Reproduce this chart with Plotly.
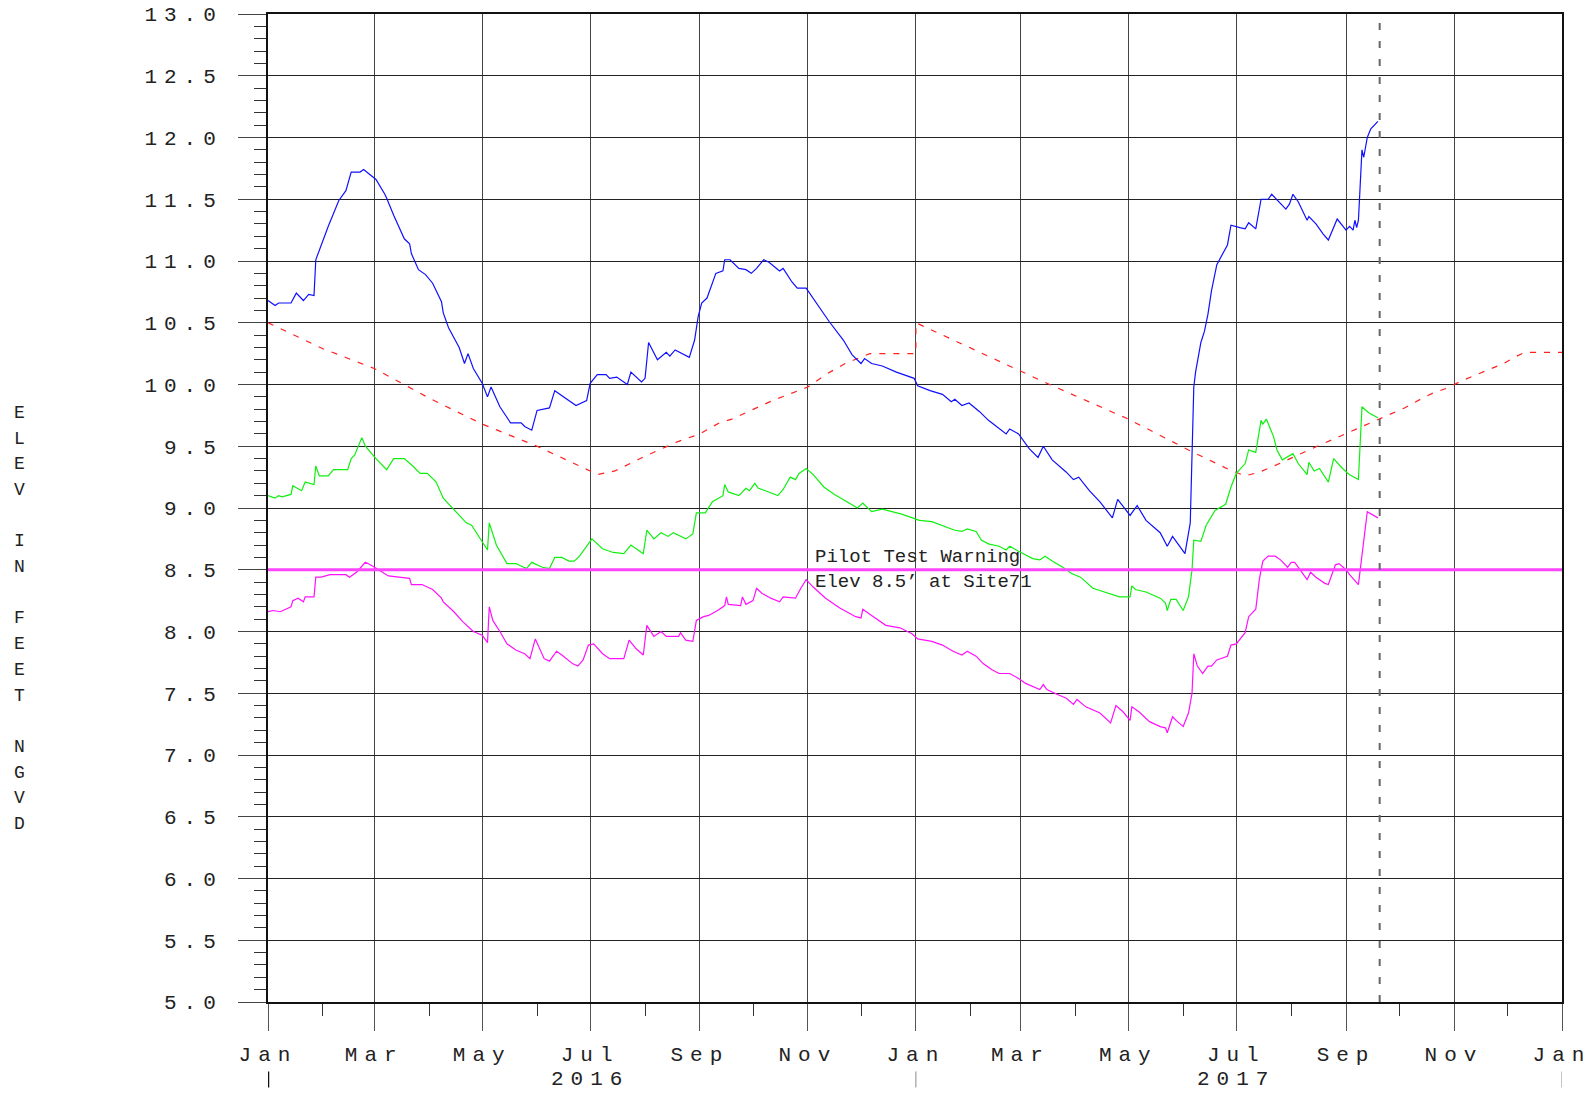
import plotly.graph_objects as go

# ---------------- data ----------------
BLUE_DATES = ["2016-01-01","2016-01-05","2016-01-07","2016-01-14","2016-01-17","2016-01-21","2016-01-24","2016-01-27","2016-01-28","2016-02-04",
"2016-02-10","2016-02-14","2016-02-17","2016-02-22","2016-02-24","2016-02-28","2016-03-02","2016-03-07","2016-03-08","2016-03-12",
"2016-03-18","2016-03-21","2016-03-22","2016-03-26","2016-03-30","2016-04-03","2016-04-08","2016-04-09","2016-04-12","2016-04-18",
"2016-04-21","2016-04-23","2016-04-26","2016-05-01","2016-05-04","2016-05-06","2016-05-11","2016-05-17","2016-05-23","2016-05-25",
"2016-05-29","2016-06-01","2016-06-06","2016-06-08","2016-06-11","2016-06-15","2016-06-23","2016-06-29","2016-07-01","2016-07-05",
"2016-07-10","2016-07-12","2016-07-16","2016-07-22","2016-07-24","2016-07-30","2016-08-01","2016-08-03","2016-08-08","2016-08-13",
"2016-08-15","2016-08-18","2016-08-22","2016-08-26","2016-08-29","2016-08-31","2016-09-02","2016-09-05","2016-09-10","2016-09-14",
"2016-09-15","2016-09-18","2016-09-23","2016-09-27","2016-09-30","2016-10-03","2016-10-07","2016-10-10","2016-10-16","2016-10-18",
"2016-10-23","2016-10-26","2016-10-31","2016-11-07","2016-11-13","2016-11-21","2016-11-26","2016-12-01","2016-12-03","2016-12-07",
"2016-12-13","2016-12-21","2016-12-31","2017-01-02","2017-01-09","2017-01-16","2017-01-21","2017-01-23","2017-01-27","2017-01-31",
"2017-02-06","2017-02-11","2017-02-17","2017-02-21","2017-02-23","2017-02-28","2017-03-06","2017-03-11","2017-03-14","2017-03-19",
"2017-03-27","2017-03-31","2017-04-03","2017-04-09","2017-04-15","2017-04-22","2017-04-25","2017-04-28","2017-05-02","2017-05-06",
"2017-05-11","2017-05-19","2017-05-23","2017-05-26","2017-06-02","2017-06-05","2017-06-07","2017-06-08","2017-06-11","2017-06-13",
"2017-06-15","2017-06-17","2017-06-20","2017-06-26","2017-06-28","2017-07-03","2017-07-06","2017-07-08","2017-07-12","2017-07-15",
"2017-07-19","2017-07-21","2017-07-29","2017-07-31","2017-08-02","2017-08-05","2017-08-10","2017-08-11","2017-08-15","2017-08-19",
"2017-08-22","2017-08-27","2017-09-01","2017-09-03","2017-09-05","2017-09-06","2017-09-07","2017-09-08","2017-09-10","2017-09-11",
"2017-09-13","2017-09-15","2017-09-19"]
BLUE_VALS = [10.68,10.64,10.66,10.66,10.74,10.68,10.73,10.72,11.01,11.28,
11.49,11.57,11.72,11.72,11.74,11.69,11.66,11.54,11.51,11.37,
11.18,11.14,11.06,10.93,10.89,10.82,10.67,10.58,10.46,10.30,
10.17,10.25,10.13,10.01,9.90,9.98,9.82,9.69,9.69,9.66,
9.63,9.79,9.80,9.81,9.95,9.91,9.83,9.87,10.01,10.08,
10.08,10.05,10.06,10.00,10.10,10.02,10.05,10.34,10.20,10.26,
10.23,10.28,10.25,10.22,10.36,10.55,10.66,10.70,10.90,10.92,
11.01,11.01,10.94,10.93,10.90,10.94,11.01,10.99,10.92,10.94,
10.83,10.78,10.78,10.63,10.51,10.36,10.24,10.17,10.21,10.17,
10.15,10.10,10.05,9.99,9.95,9.92,9.86,9.88,9.83,9.85,
9.78,9.71,9.64,9.60,9.64,9.60,9.48,9.41,9.50,9.39,
9.29,9.23,9.25,9.14,9.05,8.92,9.07,9.01,8.94,9.02,
8.90,8.80,8.69,8.77,8.63,8.88,9.98,10.10,10.34,10.43,
10.57,10.76,10.97,11.13,11.29,11.27,11.26,11.31,11.26,11.50,
11.50,11.54,11.42,11.46,11.54,11.48,11.33,11.36,11.30,11.22,
11.17,11.34,11.25,11.28,11.25,11.33,11.27,11.33,11.90,11.84,
12.00,12.07,12.13]

GREEN_DATES = ["2016-01-01","2016-01-05","2016-01-07","2016-01-09","2016-01-14","2016-01-15","2016-01-20","2016-01-22","2016-01-27","2016-01-28",
"2016-01-30","2016-02-04","2016-02-07","2016-02-15","2016-02-17","2016-02-19","2016-02-23","2016-02-25","2016-03-02","2016-03-08",
"2016-03-12","2016-03-18","2016-03-22","2016-03-27","2016-03-31","2016-04-05","2016-04-09","2016-04-16","2016-04-22","2016-04-25",
"2016-04-29","2016-05-04","2016-05-05","2016-05-09","2016-05-15","2016-05-20","2016-05-26","2016-05-29","2016-06-04","2016-06-08",
"2016-06-11","2016-06-15","2016-06-19","2016-06-22","2016-06-25","2016-06-30","2016-07-02","2016-07-08","2016-07-14","2016-07-20",
"2016-07-24","2016-07-28","2016-07-31","2016-08-02","2016-08-06","2016-08-10","2016-08-14","2016-08-17","2016-08-24","2016-08-28",
"2016-08-30","2016-09-04","2016-09-08","2016-09-14","2016-09-15","2016-09-17","2016-09-23","2016-09-27","2016-09-29","2016-10-02",
"2016-10-04","2016-10-08","2016-10-15","2016-10-18","2016-10-22","2016-10-25","2016-10-27","2016-10-31","2016-11-04","2016-11-10",
"2016-11-16","2016-11-23","2016-11-29","2016-12-02","2016-12-07","2016-12-13","2016-12-24","2016-12-30","2017-01-03","2017-01-10",
"2017-01-16","2017-01-23","2017-01-27","2017-01-30","2017-02-04","2017-02-07","2017-02-11","2017-02-17","2017-02-21","2017-02-23",
"2017-02-28","2017-03-08","2017-03-12","2017-03-15","2017-03-19","2017-03-25","2017-03-30","2017-04-04","2017-04-11","2017-04-19",
"2017-04-26","2017-05-02","2017-05-03","2017-05-05","2017-05-11","2017-05-19","2017-05-22","2017-05-23","2017-05-25","2017-05-28",
"2017-06-01","2017-06-04","2017-06-06","2017-06-07","2017-06-11","2017-06-14","2017-06-19","2017-06-25","2017-06-28","2017-07-01",
"2017-07-06","2017-07-08","2017-07-12","2017-07-15","2017-07-16","2017-07-18","2017-07-22","2017-07-24","2017-07-27","2017-08-02",
"2017-08-05","2017-08-10","2017-08-11","2017-08-14","2017-08-17","2017-08-22","2017-08-25","2017-08-30","2017-09-03","2017-09-08",
"2017-09-10","2017-09-14","2017-09-19"]
GREEN_VALS = [9.10,9.08,9.10,9.09,9.11,9.18,9.14,9.21,9.19,9.34,
9.26,9.26,9.31,9.31,9.40,9.43,9.57,9.50,9.40,9.31,
9.40,9.40,9.35,9.28,9.28,9.21,9.08,8.97,8.88,8.86,
8.77,8.66,8.88,8.70,8.55,8.55,8.51,8.56,8.52,8.51,
8.60,8.60,8.57,8.57,8.61,8.71,8.75,8.67,8.64,8.63,
8.70,8.66,8.63,8.82,8.75,8.80,8.77,8.80,8.75,8.79,
8.96,8.96,9.05,9.10,9.19,9.13,9.10,9.16,9.14,9.20,
9.16,9.14,9.10,9.15,9.25,9.23,9.28,9.32,9.27,9.17,
9.11,9.05,9.00,9.04,8.97,8.99,8.95,8.92,8.90,8.89,
8.86,8.82,8.81,8.83,8.81,8.74,8.71,8.69,8.66,8.69,
8.65,8.59,8.58,8.61,8.57,8.52,8.47,8.44,8.35,8.31,
8.28,8.28,8.37,8.34,8.32,8.27,8.23,8.17,8.26,8.26,
8.17,8.28,8.50,8.74,8.73,8.86,8.98,9.03,9.17,9.28,
9.36,9.47,9.45,9.71,9.68,9.72,9.58,9.47,9.39,9.44,
9.36,9.27,9.37,9.30,9.32,9.21,9.40,9.32,9.27,9.23,
9.82,9.77,9.73]

MAGENTA_DATES = ["2016-01-01","2016-01-04","2016-01-08","2016-01-14","2016-01-15","2016-01-18","2016-01-21","2016-01-22","2016-01-27","2016-01-28",
"2016-01-31","2016-02-05","2016-02-14","2016-02-16","2016-02-20","2016-02-22","2016-02-25","2016-02-29","2016-03-06","2016-03-09",
"2016-03-15","2016-03-21","2016-03-22","2016-03-28","2016-04-03","2016-04-08","2016-04-09","2016-04-15","2016-04-20","2016-04-26",
"2016-05-01","2016-05-04","2016-05-05","2016-05-07","2016-05-11","2016-05-15","2016-05-20","2016-05-25","2016-05-28","2016-05-31",
"2016-06-05","2016-06-08","2016-06-12","2016-06-15","2016-06-21","2016-06-24","2016-06-27","2016-06-30","2016-07-03","2016-07-08",
"2016-07-12","2016-07-20","2016-07-23","2016-07-27","2016-07-31","2016-08-02","2016-08-06","2016-08-10","2016-08-13","2016-08-20",
"2016-08-21","2016-08-24","2016-08-28","2016-08-30","2016-09-03","2016-09-06","2016-09-11","2016-09-15","2016-09-16","2016-09-17",
"2016-09-24","2016-09-25","2016-09-27","2016-10-01","2016-10-03","2016-10-06","2016-10-11","2016-10-16","2016-10-18","2016-10-25",
"2016-10-28","2016-10-31","2016-11-04","2016-11-11","2016-11-19","2016-11-28","2016-12-01","2016-12-02","2016-12-08","2016-12-15",
"2016-12-23","2016-12-30","2017-01-02","2017-01-10","2017-01-16","2017-01-22","2017-01-27","2017-01-30","2017-02-04","2017-02-08",
"2017-02-13","2017-02-17","2017-02-23","2017-02-28","2017-03-04","2017-03-10","2017-03-12","2017-03-14","2017-03-16","2017-03-22",
"2017-03-27","2017-03-31","2017-04-02","2017-04-07","2017-04-15","2017-04-21","2017-04-24","2017-04-28","2017-05-02","2017-05-03",
"2017-05-07","2017-05-13","2017-05-19","2017-05-22","2017-05-23","2017-05-26","2017-05-28","2017-06-01","2017-06-04","2017-06-05",
"2017-06-06","2017-06-07","2017-06-09","2017-06-12","2017-06-15","2017-06-17","2017-06-20","2017-06-26","2017-06-28","2017-07-01",
"2017-07-06","2017-07-08","2017-07-12","2017-07-14","2017-07-16","2017-07-19","2017-07-23","2017-07-26","2017-07-30","2017-08-01",
"2017-08-03","2017-08-07","2017-08-10","2017-08-12","2017-08-15","2017-08-20","2017-08-22","2017-08-26","2017-08-28","2017-09-01",
"2017-09-03","2017-09-08","2017-09-13","2017-09-19"]
MAGENTA_VALS = [8.16,8.17,8.16,8.20,8.25,8.27,8.24,8.28,8.28,8.44,
8.44,8.46,8.46,8.44,8.48,8.51,8.56,8.53,8.48,8.45,
8.44,8.43,8.38,8.38,8.34,8.27,8.24,8.16,8.08,8.00,
7.97,7.91,8.20,8.09,8.00,7.90,7.85,7.82,7.78,7.94,
7.78,7.76,7.84,7.81,7.74,7.72,7.77,7.89,7.90,7.82,
7.78,7.78,7.93,7.86,7.81,8.05,7.96,8.00,7.96,7.96,
7.99,7.93,7.92,8.09,8.12,8.13,8.17,8.21,8.28,8.22,
8.21,8.28,8.22,8.25,8.35,8.31,8.27,8.24,8.28,8.27,
8.35,8.42,8.36,8.27,8.19,8.12,8.11,8.18,8.12,8.05,
8.03,7.98,7.94,7.92,7.89,7.84,7.81,7.84,7.80,7.74,
7.69,7.66,7.66,7.62,7.58,7.54,7.53,7.57,7.53,7.49,
7.46,7.41,7.45,7.39,7.34,7.26,7.40,7.35,7.28,7.39,
7.35,7.27,7.23,7.22,7.18,7.31,7.28,7.23,7.34,7.42,
7.50,7.82,7.72,7.66,7.72,7.72,7.77,7.80,7.89,7.90,
7.99,8.12,8.18,8.42,8.57,8.61,8.61,8.58,8.52,8.56,
8.56,8.48,8.42,8.48,8.44,8.39,8.38,8.54,8.55,8.50,
8.46,8.38,8.97,8.92]

RED_DATES = ["2016-01-01","2016-02-01","2016-03-01","2016-04-01","2016-05-01","2016-06-01","2016-07-01","2016-07-05","2016-07-15","2016-08-01",
"2016-08-20","2016-09-01","2016-09-12","2016-09-19","2016-10-12","2016-11-01","2016-11-11","2016-11-22","2016-12-06","2016-12-31",
"2017-01-01","2017-01-01","2017-01-22","2017-03-01","2017-03-16","2017-05-01","2017-05-13","2017-06-04","2017-06-27","2017-07-06",
"2017-07-14","2017-07-27","2017-08-11","2017-09-01","2017-09-20","2017-09-28","2017-10-04","2017-10-13","2017-10-20","2017-10-28",
"2017-11-04","2017-11-12","2017-11-20","2017-11-29","2017-12-05","2017-12-11","2018-01-01"]
RED_VALS = [10.50,10.29,10.13,9.89,9.68,9.50,9.30,9.27,9.30,9.42,
9.54,9.60,9.69,9.72,9.87,9.98,10.08,10.17,10.25,10.25,
10.25,10.50,10.36,10.11,10.01,9.72,9.63,9.47,9.31,9.26,
9.29,9.37,9.47,9.60,9.72,9.77,9.81,9.88,9.93,9.97,
10.02,10.07,10.12,10.17,10.22,10.26,10.26]

WARNING_LEVEL = 8.5
WARNING_TEXT = "Pilot Test Warning<br>Elev 8.5\u2019 at Site71"
CURRENT_DATE = "2017-09-20"

X_RANGE = ["2016-01-01", "2018-01-01"]
X_TICKS = ["2016-01-01","2016-03-01","2016-05-01","2016-07-01","2016-09-01","2016-11-01",
           "2017-01-01","2017-03-01","2017-05-01","2017-07-01","2017-09-01","2017-11-01","2018-01-01"]
X_TICK_LABELS = ["Jan","Mar","May","Jul","Sep","Nov","Jan","Mar","May","Jul","Sep","Nov","Jan"]
X_MINOR = ["2016-02-01","2016-04-01","2016-06-01","2016-08-01","2016-10-01","2016-12-01",
           "2017-02-01","2017-04-01","2017-06-01","2017-08-01","2017-10-01","2017-12-01"]
YEARS = ["2016", "2017"]
YEAR_CENTERS = ["2016-07-01", "2017-07-01"]
YEAR_MARKS = ["2016-01-01", "2017-01-01", "2018-01-01"]

Y_TICKS = [5.0,5.5,6.0,6.5,7.0,7.5,8.0,8.5,9.0,9.5,10.0,10.5,11.0,11.5,12.0,12.5,13.0]
Y_TICK_LABELS = ["5.0","5.5","6.0","6.5","7.0","7.5","8.0","8.5","9.0","9.5",
                 "10.0","10.5","11.0","11.5","12.0","12.5","13.0"]
Y_TITLE = "ELEV IN FEET NGVD"

FONT = "Liberation Mono"


def spaced(s, ls=7):
    return '<span style="letter-spacing:%dpx">%s</span>' % (ls, s)


fig = go.Figure()
fig.add_trace(go.Scatter(x=RED_DATES, y=RED_VALS, mode="lines",
                         line=dict(color="#ff2020", width=1.2, dash="6px,8px")))
fig.add_trace(go.Scatter(x=BLUE_DATES, y=BLUE_VALS, mode="lines",
                         line=dict(color="#1010ff", width=1.2)))
fig.add_trace(go.Scatter(x=GREEN_DATES, y=GREEN_VALS, mode="lines",
                         line=dict(color="#10f010", width=1.2)))
fig.add_trace(go.Scatter(x=MAGENTA_DATES, y=MAGENTA_VALS, mode="lines",
                         line=dict(color="#ff10ff", width=1.2)))

shapes = []
# warning line
shapes.append(dict(type="line", xref="paper", yref="y", x0=0, x1=1,
                   y0=WARNING_LEVEL, y1=WARNING_LEVEL,
                   line=dict(color="#ff44ff", width=3)))
# current date dashed line
shapes.append(dict(type="line", xref="x", yref="paper", x0=CURRENT_DATE, x1=CURRENT_DATE,
                   y0=0, y1=1, line=dict(color="#666666", width=2, dash="7px,11px")))
# year separators below the axis
for i, d in enumerate(YEAR_MARKS):
    shapes.append(dict(type="line", xref="x", yref="paper", x0=d, x1=d,
                       y0=-0.0703, y1=-0.0865,
                       line=dict(color="#111111" if i == 0 else "#888888",
                                 width=2.5 if i == 0 else 1)))

annotations = []
annotations.append(dict(xref="paper", yref="y", x=0.421, y=WARNING_LEVEL,
                        xanchor="left", yanchor="middle", align="left",
                        text=WARNING_TEXT, showarrow=False,
                        font=dict(family=FONT, size=19, color="#222222")))
for yr, c in zip(YEARS, YEAR_CENTERS):
    annotations.append(dict(xref="x", yref="paper", x=c, y=-0.0784,
                            xanchor="center", yanchor="middle",
                            text=spaced(yr), showarrow=False,
                            font=dict(family=FONT, size=21, color="#222222")))
k = 0
for ch in Y_TITLE:
    if ch != " ":
        ypx = 413 + 25.7 * k
        annotations.append(dict(xref="paper", yref="paper",
                                x=(20 - 268.3) / 1293.4, y=(1002.5 - ypx) / 989.0,
                                xanchor="center", yanchor="middle",
                                text=ch, showarrow=False,
                                font=dict(family=FONT, size=18, color="#222222")))
    k += 1

fig.update_layout(
    width=1591, height=1094,
    margin=dict(l=268, r=29, t=13.5, b=91.5),
    paper_bgcolor="white", plot_bgcolor="white",
    showlegend=False, hovermode=False,
    font=dict(family=FONT, size=21, color="#222222"),
    shapes=shapes, annotations=annotations,
)
fig.update_xaxes(
    type="date", range=X_RANGE, automargin=False,
    tickmode="array", tickvals=X_TICKS,
    ticktext=[spaced(t) for t in X_TICK_LABELS],
    showgrid=True, gridcolor="#444444", gridwidth=1.2,
    ticks="outside", ticklen=27, tickwidth=1.2, tickcolor="#555555",
    ticklabelstandoff=5, ticklabeloverflow="allow",
    showline=True, linecolor="#111111", linewidth=2, mirror=True,
    zeroline=False,
    minor=dict(tickvals=X_MINOR, ticks="outside", ticklen=12, tickwidth=1.2,
               tickcolor="#333333", showgrid=False),
    tickfont=dict(family=FONT, size=21, color="#222222"),
)
fig.update_yaxes(
    range=[5, 13], automargin=False,
    tickmode="array", tickvals=Y_TICKS,
    ticktext=[spaced(t) for t in Y_TICK_LABELS],
    showgrid=True, gridcolor="#222222", gridwidth=1,
    ticks="outside", ticklen=28, tickwidth=1.2, tickcolor="#444444",
    ticklabelstandoff=11, ticklabeloverflow="allow",
    showline=True, linecolor="#111111", linewidth=2, mirror=True,
    zeroline=False,
    minor=dict(dtick=0.1, ticks="outside", ticklen=12, tickwidth=1.2,
               tickcolor="#333333", showgrid=False),
    tickfont=dict(family=FONT, size=21, color="#222222"),
)

# the page body gets no margin so the figure fills the window exactly
fig.write_html("out.html", config={"displayModeBar": False},
               post_script="document.body.style.margin='0px';")
